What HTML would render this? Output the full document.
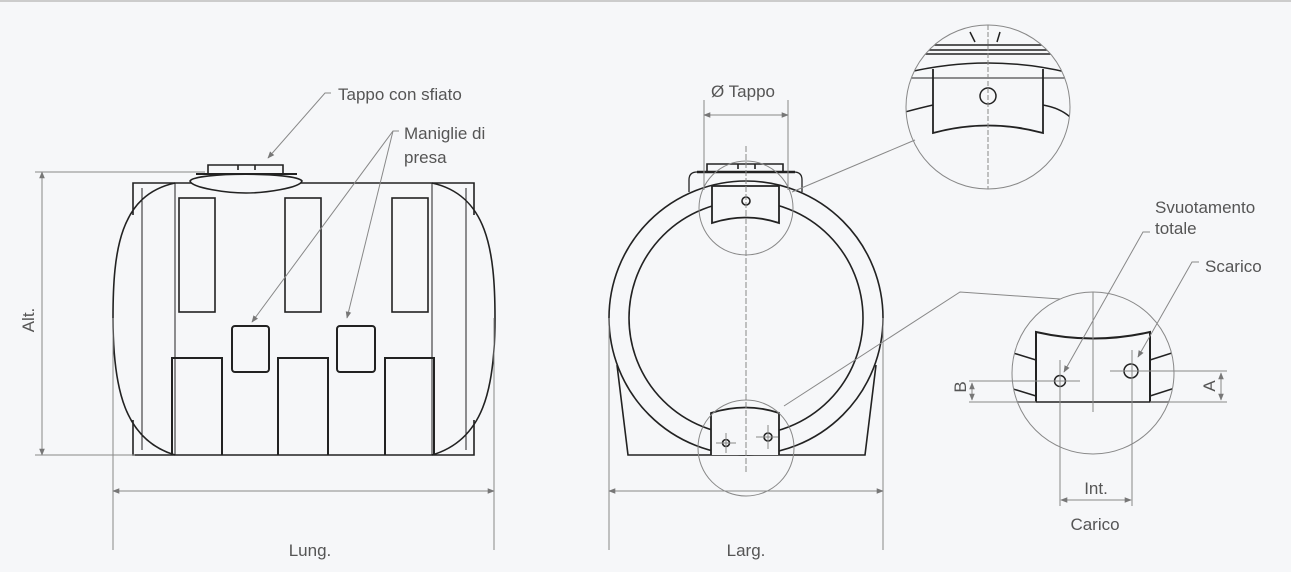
<!DOCTYPE html>
<html><head><meta charset="utf-8"><style>
html,body{margin:0;padding:0;background:#f6f7f9;}
svg{display:block;}
text{font-family:"Liberation Sans",sans-serif;font-size:17px;fill:#555;}
</style></head><body>
<svg width="1291" height="572" viewBox="0 0 1291 572" xmlns="http://www.w3.org/2000/svg">
<defs>
<marker id="ar" viewBox="0 0 10 10" refX="9" refY="5" markerWidth="7" markerHeight="7" orient="auto-start-reverse"><path d="M0,1 L10,5 L0,9 z" fill="#777"/></marker>
<clipPath id="c1"><circle cx="988" cy="107" r="82"/></clipPath>
<clipPath id="c2"><circle cx="1093" cy="373" r="81"/></clipPath>
</defs>
<line x1="0" y1="1" x2="1291" y2="1" stroke="#ccc" stroke-width="2"/>

<!-- LEFT TANK -->
<g fill="none" stroke="#222" stroke-width="1.6">
<path d="M133,215 V183 H474 V215"/>
<path d="M133,420 V455 H474 V420"/>
<path d="M175,183 C120,195 113,250 113,318 C113,390 125,440 175,455"/>
<path d="M432,183 C487,195 495,250 495,318 C495,390 483,440 432,455"/>
<line x1="142" y1="188" x2="142" y2="450" stroke-width="1"/>
<line x1="466" y1="188" x2="466" y2="450" stroke-width="1"/>
<line x1="175" y1="183" x2="175" y2="455" stroke-width="1"/>
<line x1="432" y1="183" x2="432" y2="455" stroke-width="1"/>
<path d="M190,181 C195,172 296,172 302,181 C300,188 265,193 246,193 C227,193 192,188 190,181 Z" fill="#f6f7f9"/>
<path d="M196,174 H297" stroke-width="2"/>
<path d="M208,174 V165 H283 V174 M238,165 V170 M255,165 V170"/>
<rect x="179" y="198" width="36" height="114"/>
<rect x="285" y="198" width="36" height="114"/>
<rect x="392" y="198" width="36" height="114"/>
<rect x="232" y="326" width="37" height="46" rx="3" stroke-width="2"/>
<rect x="337" y="326" width="38" height="46" rx="3" stroke-width="2"/>
<path d="M172,455 V358 H222 V455" stroke-width="2"/>
<path d="M278,455 V358 H328 V455" stroke-width="2"/>
<path d="M385,455 V358 H434 V455" stroke-width="2"/>
</g>
<g stroke="#888" stroke-width="1" fill="none">
<line x1="35" y1="172" x2="205" y2="172"/>
<line x1="35" y1="455" x2="135" y2="455"/>
<line x1="42" y1="172" x2="42" y2="455" marker-start="url(#ar)" marker-end="url(#ar)"/>
<line x1="113" y1="318" x2="113" y2="550"/>
<line x1="494" y1="318" x2="494" y2="550"/>
<line x1="113" y1="491" x2="494" y2="491" marker-start="url(#ar)" marker-end="url(#ar)"/>
<path d="M331,93 H325 L268,158" marker-end="url(#ar)"/>
<path d="M399,131 H393 L252,322" marker-end="url(#ar)"/>
<path d="M393,131 L347,318" marker-end="url(#ar)"/>
</g>
<text x="338" y="100">Tappo con sfiato</text>
<text x="404" y="139">Maniglie di</text>
<text x="404" y="163">presa</text>
<text x="0" y="0" transform="translate(34,320) rotate(-90)" text-anchor="middle">Alt.</text>
<text x="310" y="556" text-anchor="middle">Lung.</text>

<!-- MIDDLE TANK -->
<g fill="none" stroke="#222" stroke-width="1.6">
<path d="M689,192 V180 Q689,172 697,172 H794 Q802,172 802,180 V192" stroke-width="1.3"/>
<path d="M697,172 H795" stroke-width="2.5"/>
<path d="M707,172 V164 H783 V172 M738,164 V169 M755,164 V169"/>
<circle cx="746" cy="318" r="137" fill="#f6f7f9"/>
<circle cx="746" cy="318" r="117"/>
<path d="M617,365 L628,455 H865 L876,365" />
<path d="M712,223 V186 H779 V223 Q746,212 712,223 Z" fill="#f6f7f9" stroke-width="1.8"/>
<circle cx="746" cy="201" r="4"/>
<path d="M711,455 V413 Q746,402 779,413 V455" fill="#f6f7f9" stroke-width="1.8"/>
<circle cx="726" cy="443" r="3.5"/>
<circle cx="768" cy="437" r="4"/>
</g>
<g stroke="#888" stroke-width="1" fill="none">
<line x1="746" y1="146" x2="746" y2="472" stroke-dasharray="6,2"/>
<line x1="716" y1="443" x2="736" y2="443"/><line x1="726" y1="433" x2="726" y2="453"/>
<line x1="756" y1="437" x2="778" y2="437"/><line x1="768" y1="425" x2="768" y2="449"/>
<circle cx="746" cy="208" r="47"/>
<circle cx="746" cy="448" r="48"/>
<line x1="704" y1="100" x2="704" y2="190"/>
<line x1="788" y1="100" x2="788" y2="190"/>
<line x1="704" y1="115" x2="788" y2="115" marker-start="url(#ar)" marker-end="url(#ar)"/>
<line x1="609" y1="318" x2="609" y2="550"/>
<line x1="883" y1="318" x2="883" y2="550"/>
<line x1="609" y1="491" x2="883" y2="491" marker-start="url(#ar)" marker-end="url(#ar)"/>
<line x1="792" y1="192" x2="915" y2="140"/>
<path d="M784,406 L960,292 L1060,299"/>
</g>
<text x="743" y="97" text-anchor="middle">Ø Tappo</text>
<text x="746" y="556" text-anchor="middle">Larg.</text>

<!-- TOP DETAIL -->
<g clip-path="url(#c1)" fill="none" stroke="#222" stroke-width="1.5">
<path d="M900,45 H1080 M900,50 H1080 M900,54 H1080"/>
<path d="M970,32 L975,42 M1000,32 L997,42"/>
<path d="M900,78 H1080" stroke-width="1"/>
<path d="M905,73 Q988,53 1070,73"/>
<path d="M905,112 Q920,108 933,105 M1043,105 Q1060,108 1070,117"/>
<path d="M933,69 V133 Q988,118 1043,133 V69" stroke-width="1.8"/>
<circle cx="988" cy="96" r="8"/>
</g>
<g stroke="#888" stroke-width="1" fill="none">
<circle cx="988" cy="107" r="82"/>
<line x1="988" y1="25" x2="988" y2="189" stroke-dasharray="5,2"/>
</g>

<!-- BOTTOM DETAIL -->
<g clip-path="url(#c2)" fill="none" stroke="#222" stroke-width="1.5">
<path d="M1010,352 L1036,360 M1010,388 L1036,396 M1150,360 L1175,352 M1150,396 L1175,388"/>
<path d="M1010,402 H1180"/>
<path d="M1036,402 V332 Q1093,345 1150,332 V402" stroke-width="2"/>
<circle cx="1060" cy="381" r="5.5"/>
<circle cx="1131" cy="371" r="7"/>
</g>
<g stroke="#888" stroke-width="1" fill="none">
<circle cx="1093" cy="373" r="81"/>
<line x1="1093" y1="292" x2="1093" y2="412"/>
<line x1="969" y1="381" x2="1080" y2="381"/>
<line x1="969" y1="402" x2="1036" y2="402"/>
<line x1="1150" y1="402" x2="1227" y2="402"/>
<line x1="1110" y1="371" x2="1227" y2="371"/>
<line x1="1060" y1="360" x2="1060" y2="506"/>
<line x1="1132" y1="350" x2="1132" y2="506"/>
<line x1="972" y1="383" x2="972" y2="400" marker-start="url(#ar)" marker-end="url(#ar)"/>
<line x1="1221" y1="373" x2="1221" y2="400" marker-start="url(#ar)" marker-end="url(#ar)"/>
<line x1="1061" y1="500" x2="1131" y2="500" marker-start="url(#ar)" marker-end="url(#ar)"/>
<path d="M1150,232 H1143 L1064,372" marker-end="url(#ar)"/>
<path d="M1199,262 H1192 L1138,357" marker-end="url(#ar)"/>
</g>
<text x="1155" y="213">Svuotamento</text>
<text x="1155" y="234">totale</text>
<text x="1205" y="272">Scarico</text>
<text x="0" y="0" transform="translate(966,387) rotate(-90)" text-anchor="middle">B</text>
<text x="0" y="0" transform="translate(1215,386) rotate(-90)" text-anchor="middle">A</text>
<text x="1096" y="494" text-anchor="middle">Int.</text>
<text x="1095" y="530" text-anchor="middle">Carico</text>
</svg>
</body></html>
